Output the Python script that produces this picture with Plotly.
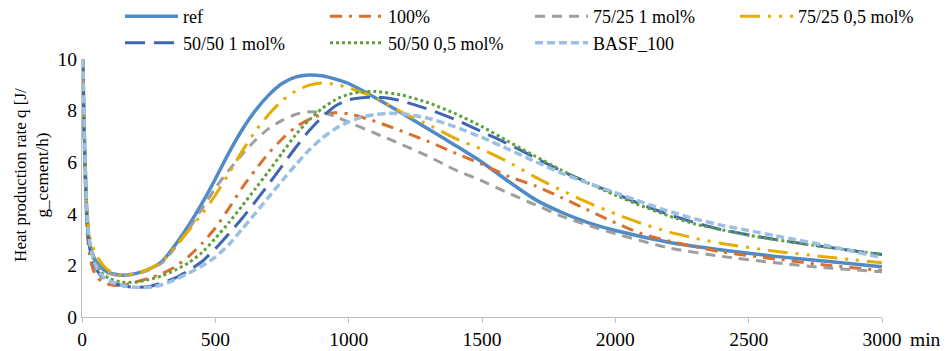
import plotly.graph_objects as go

# ---------------- data ----------------
t_ref = [3, 10, 20, 30, 45, 60, 80, 100, 150, 200, 250, 300, 350, 400, 450, 500, 550, 600, 650, 700,
         750, 800, 850, 900, 950, 1000, 1100, 1200, 1300, 1400, 1500, 1600, 1700, 1800, 1900, 2000,
         2200, 2400, 2600, 2800, 3000]
q_ref = [10, 6.5, 3.6, 2.8, 2.3, 2.05, 1.85, 1.72, 1.62, 1.68, 1.85, 2.15, 2.8, 3.55, 4.4, 5.35, 6.35, 7.25,
         8.0, 8.6, 9.05, 9.3, 9.38, 9.35, 9.22, 9.05, 8.5, 7.9, 7.28, 6.65, 6.0, 5.25, 4.55, 4.05, 3.65,
         3.35, 2.9, 2.6, 2.35, 2.15, 1.95]

t_100 = [3, 10, 20, 30, 45, 60, 80, 100, 130, 160, 200, 250, 300, 350, 400, 450, 500, 550, 600, 650, 700,
         750, 800, 850, 900, 950, 1000, 1100, 1200, 1300, 1400, 1500, 1600, 1700, 1800, 1900, 2000, 2100,
         2200, 2300, 2400, 2600, 2800, 3000]
q_100 = [10, 6.0, 3.2, 2.3, 1.75, 1.5, 1.35, 1.27, 1.22, 1.25, 1.35, 1.5, 1.68, 1.95, 2.35, 2.85, 3.45,
         4.2, 5.0, 5.7, 6.35, 6.9, 7.35, 7.65, 7.85, 7.92, 7.88, 7.58, 7.2, 6.8, 6.35, 5.92, 5.45, 5.08,
         4.62, 4.13, 3.65, 3.22, 2.95, 2.72, 2.52, 2.25, 2.0, 1.8]

t_7525_1 = [3, 10, 20, 30, 45, 60, 80, 100, 150, 200, 250, 300, 350, 400, 450, 500, 550, 600, 650, 700,
            750, 800, 850, 900, 950, 1000, 1100, 1200, 1300, 1400, 1500, 1600, 1700, 1800, 1900, 2000,
            2200, 2400, 2600, 2800, 3000]
q_7525_1 = [10, 6.3, 3.5, 2.7, 2.2, 1.95, 1.78, 1.68, 1.6, 1.66, 1.82, 2.1, 2.7, 3.4, 4.2, 5.0, 5.68,
            6.3, 6.85, 7.3, 7.62, 7.85, 7.95, 7.93, 7.77, 7.55, 7.12, 6.68, 6.22, 5.7, 5.28, 4.8, 4.35,
            3.9, 3.55, 3.23, 2.68, 2.35, 2.1, 1.9, 1.75]

t_7525_05 = [3, 10, 20, 30, 45, 60, 80, 100, 130, 160, 200, 250, 300, 350, 400, 450, 500, 550, 600, 650,
             700, 750, 800, 850, 900, 950, 1000, 1100, 1200, 1300, 1400, 1500, 1600, 1700, 1800, 1900,
             2000, 2100, 2200, 2300, 2400, 2600, 2800, 3000]
q_7525_05 = [10, 6.8, 4.0, 3.1, 2.6, 2.3, 2.0, 1.8, 1.65, 1.62, 1.7, 1.85, 2.15, 2.72, 3.35, 4.0, 4.72,
             5.55, 6.42, 7.2, 7.85, 8.38, 8.75, 8.98, 9.07, 9.02, 8.88, 8.5, 7.93, 7.45, 6.92, 6.5, 6.0,
             5.42, 4.9, 4.42, 4.0, 3.62, 3.3, 3.05, 2.85, 2.55, 2.32, 2.1]

t_5050_1 = [3, 10, 20, 30, 45, 60, 80, 100, 150, 200, 250, 300, 350, 400, 450, 500, 550, 600, 650, 700,
            750, 800, 850, 900, 950, 1000, 1050, 1100, 1150, 1200, 1300, 1400, 1500, 1600, 1700, 1800,
            1900, 2000, 2100, 2200, 2300, 2400, 2600, 2800, 3000]
q_5050_1 = [10, 6.4, 3.5, 2.6, 2.05, 1.75, 1.5, 1.38, 1.22, 1.15, 1.18, 1.32, 1.52, 1.8, 2.15, 2.65,
            3.22, 3.82, 4.47, 5.15, 5.85, 6.55, 7.2, 7.75, 8.18, 8.42, 8.5, 8.52, 8.48, 8.37, 8.05, 7.65,
            7.18, 6.7, 6.17, 5.65, 5.2, 4.78, 4.35, 3.97, 3.65, 3.38, 3.0, 2.7, 2.42]

t_5050_05 = [3, 10, 20, 30, 45, 60, 80, 100, 150, 200, 250, 300, 350, 400, 450, 500, 550, 600, 650, 700,
             750, 800, 850, 900, 950, 1000, 1050, 1100, 1200, 1300, 1400, 1500, 1600, 1700, 1800, 1900,
             2000, 2100, 2200, 2300, 2400, 2500, 2600, 2800, 3000]
q_5050_05 = [10, 6.5, 3.7, 2.8, 2.2, 1.9, 1.65, 1.5, 1.35, 1.35, 1.45, 1.6, 1.82, 2.1, 2.5, 3.05, 3.65,
             4.3, 4.97, 5.65, 6.35, 7.05, 7.62, 8.08, 8.42, 8.63, 8.73, 8.74, 8.6, 8.3, 7.88, 7.38, 6.8,
             6.23, 5.68, 5.18, 4.72, 4.3, 3.92, 3.6, 3.38, 3.17, 3.0, 2.7, 2.42]

t_basf = [3, 10, 20, 30, 45, 60, 80, 100, 150, 200, 250, 300, 350, 400, 450, 500, 550, 600, 650, 700,
          750, 800, 850, 900, 950, 1000, 1050, 1100, 1150, 1200, 1300, 1400, 1500, 1600, 1700, 1800,
          1900, 2000, 2100, 2200, 2300, 2400, 2500, 2600, 2800, 3000]
q_basf = [10, 6.6, 3.8, 2.8, 2.15, 1.8, 1.55, 1.4, 1.22, 1.15, 1.15, 1.25, 1.45, 1.7, 1.98, 2.32, 2.8,
          3.4, 4.02, 4.65, 5.28, 5.88, 6.45, 6.93, 7.3, 7.56, 7.75, 7.85, 7.9, 7.88, 7.7, 7.37, 6.96, 6.5,
          6.02, 5.57, 5.18, 4.82, 4.45, 4.1, 3.8, 3.55, 3.35, 3.15, 2.75, 2.3]

x_ticks = [0, 500, 1000, 1500, 2000, 2500, 3000]
y_ticks = [0, 2, 4, 6, 8, 10]

FONT = "Liberation Serif, Times New Roman, serif"

series = [
    ("ref", t_ref, q_ref, "#4F8BC6", 3.5, "solid", "legend"),
    ("100%", t_100, q_100, "#D9702E", 3, "12px,7px,3px,7px", "legend2"),
    ("75/25 1 mol%", t_7525_1, q_7525_1, "#9E9E9E", 3, "10px,7px", "legend3"),
    ("75/25 0,5 mol%", t_7525_05, q_7525_05, "#E6AC00", 3, "20px,8px,3px,8px,3px,8px", "legend4"),
    ("50/50 1 mol%", t_5050_1, q_5050_1, "#3F67B1", 3, "20px,9px", "legend"),
    ("50/50 0,5 mol%", t_5050_05, q_5050_05, "#62A03D", 3, "3px,3px", "legend2"),
    ("BASF_100", t_basf, q_basf, "#9BC0E4", 3.5, "8px,4px", "legend3"),
]

fig = go.Figure()
for name, t, q, col, w, dash, lg in series:
    fig.add_trace(go.Scatter(x=t, y=q, name=name, mode="lines",
                             line=dict(color=col, width=w, dash=dash, shape="spline", smoothing=0.6),
                             legend=lg))

leg_common = dict(orientation="v", yanchor="top", xanchor="left", y=1.236,
                  font=dict(family=FONT, size=18, color="#000"), bgcolor="rgba(0,0,0,0)",
                  tracegroupgap=0, itemwidth=53)

fig.update_layout(
    width=951, height=351,
    margin=dict(l=82, r=69, t=59, b=34, autoexpand=False),
    paper_bgcolor="white", plot_bgcolor="white",
    font=dict(family=FONT, size=19.5, color="#000"),
    legend=dict(x=0.0475, **leg_common),
    legend2=dict(x=0.30375, **leg_common),
    legend3=dict(x=0.56, **leg_common),
    legend4=dict(x=0.81625, **leg_common),
    xaxis=dict(range=[0, 3000], tickvals=x_ticks, ticks="outside", ticklen=5, tickcolor="#BFBFBF",
               showline=True, linecolor="#BFBFBF", linewidth=1, showgrid=False, zeroline=False,
               tickfont=dict(family=FONT, size=19.5, color="#000")),
    yaxis=dict(range=[0, 10], tickvals=y_ticks, ticks="", showline=True, linecolor="#BFBFBF",
               linewidth=1, showgrid=False, zeroline=False,
               tickfont=dict(family=FONT, size=19.5, color="#000")),
    annotations=[
        dict(text="Heat production rate q [J/<br>g_cement/h)", xref="paper", yref="paper",
             x=-0.064, y=0.55, xanchor="center", yanchor="middle", textangle=-90, showarrow=False,
             font=dict(family=FONT, size=17, color="#000")),
        dict(text="min", xref="paper", yref="paper", x=1.054, y=-0.089, xanchor="center",
             yanchor="middle", showarrow=False,
             font=dict(family=FONT, size=19.5, color="#000")),
    ],
)

fig.write_html("out.html", config={"displayModeBar": False},
               post_script="document.body.style.margin='0';")
